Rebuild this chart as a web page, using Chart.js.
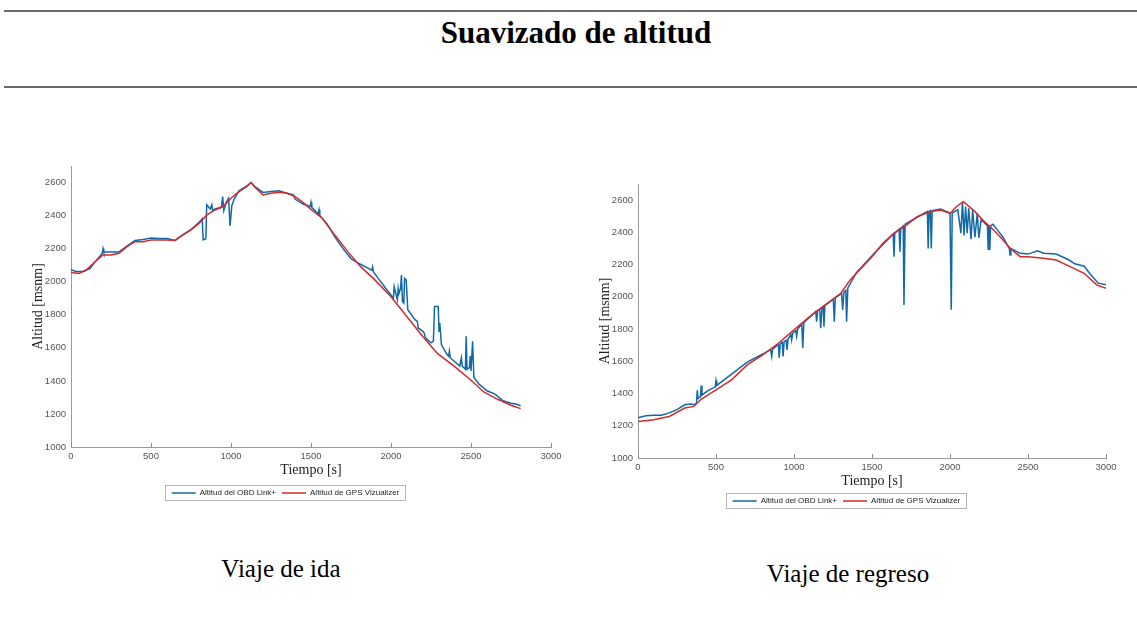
<!DOCTYPE html>
<html>
<head>
<meta charset="utf-8">
<script src="https://cdn.jsdelivr.net/npm/chart.js@4.4.0/dist/chart.umd.min.js"></script>
<style>
  body { margin: 0; background: #fff; width: 1137px; height: 619px; position: relative; overflow: hidden;
         font-family: "Liberation Serif", "Times New Roman", serif; }
  .rule { position: absolute; left: 4px; width: 1133px; height: 2px; background: #6b6b6b; }
  #title { position: absolute; left: 0; width: 1152px; top: 17px; text-align: center;
           font-weight: bold; font-size: 31px; line-height: 31px; color: #000; }
  canvas { position: absolute; }
  .caption { position: absolute; width: 300px; text-align: center; font-size: 25px; line-height: 25px; color: #000; }
</style>
</head>
<body>
<div class="rule" style="top:10px"></div>
<div id="title">Suavizado de altitud</div>
<div class="rule" style="top:86px"></div>

<canvas id="ida" width="580" height="360" style="left:20px;top:150px"></canvas>
<canvas id="regreso" width="568" height="350" style="left:587px;top:168px"></canvas>

<div class="caption" style="left:131px;top:556px">Viaje de ida</div>
<div class="caption" style="left:698px;top:561px">Viaje de regreso</div>

<script>
// ---- data: Viaje de ida ----
var idaTiempoObd = [0, 30, 80, 120, 150, 195, 200, 205, 300, 350, 400, 450, 500, 550, 600, 650, 700, 750, 800, 820,
  826, 843, 848, 870, 880, 885, 900, 940, 948, 955, 970, 985, 994, 1005, 1020, 1050, 1100, 1125, 1150,
  1200, 1250, 1300, 1350, 1390, 1400, 1450, 1495, 1500, 1505, 1545, 1550, 1555, 1600, 1650, 1700, 1750, 1800, 1880, 1885,
  1890, 1920, 1975, 2000, 2015, 2020, 2030, 2040, 2045, 2050, 2060, 2065, 2072, 2080, 2085, 2095, 2105, 2150, 2165, 2170,
  2200, 2207, 2215, 2250, 2265, 2272, 2295, 2300, 2305, 2315, 2350, 2360, 2365, 2370, 2430, 2440, 2445, 2465, 2470, 2475,
  2490, 2495, 2500, 2510, 2518, 2550, 2600, 2650, 2700, 2750, 2780, 2810];
var idaAltitudObd = [2072, 2062, 2062, 2080, 2120, 2170, 2200, 2180, 2180, 2215, 2250, 2255, 2265, 2262, 2262, 2250, 2285, 2315, 2360, 2380,
  2253, 2260, 2465, 2440, 2465, 2430, 2440, 2450, 2515, 2430, 2480, 2505, 2338, 2460, 2500, 2550, 2580, 2600, 2575,
  2540, 2545, 2550, 2535, 2525, 2500, 2470, 2455, 2480, 2450, 2410, 2435, 2400, 2350, 2270, 2200, 2140, 2110, 2070, 2090,
  2060, 2020, 1950, 1920, 1900, 1970, 1930, 1890, 1960, 1930, 1960, 2040, 1880, 1870, 2020, 2010, 1830, 1770, 1760, 1720,
  1700, 1690, 1660, 1630, 1640, 1850, 1850, 1700, 1750, 1620, 1560, 1550, 1580, 1540, 1490, 1540, 1490, 1470, 1670, 1470,
  1480, 1550, 1460, 1640, 1420, 1380, 1340, 1320, 1280, 1265, 1260, 1250];
var idaTiempoGps = [0, 50, 100, 150, 200, 250, 300, 350, 400, 450, 500, 550, 600, 650, 700, 750, 800, 850, 900, 950,
  1000, 1050, 1100, 1125, 1150, 1200, 1250, 1300, 1350, 1400, 1450, 1500, 1570, 1640, 1730, 1810, 1890, 2000, 2100, 2200,
  2290, 2400, 2500, 2580, 2670, 2750, 2810];
var idaAltitudGps = [2055, 2050, 2075, 2121, 2162, 2162, 2172, 2212, 2242, 2242, 2252, 2252, 2252, 2250, 2283, 2313, 2353, 2404, 2434, 2455,
  2505, 2545, 2576, 2600, 2572, 2525, 2535, 2541, 2535, 2515, 2480, 2438, 2384, 2293, 2182, 2091, 2020, 1909, 1788, 1667,
  1566, 1485, 1404, 1333, 1287, 1253, 1232];

// ---- data: Viaje de regreso ----
var regTiempoObd = [0, 50, 100, 150, 200, 250, 300, 340, 360, 375, 380, 385, 400, 405, 410, 450, 495, 500, 505, 600,
  700, 800, 850, 857, 863, 900, 905, 912, 925, 930, 937, 950, 955, 962, 980, 985, 992, 1012, 1017, 1024,
  1050, 1056, 1063, 1140, 1145, 1152, 1165, 1171, 1180, 1188, 1192, 1198, 1252, 1258, 1265, 1305, 1312, 1320, 1332, 1337,
  1345, 1400, 1500, 1600, 1636, 1641, 1646, 1674, 1679, 1684, 1700, 1705, 1712, 1800, 1855, 1860, 1866, 1874, 1880, 1886,
  1940, 2000, 2008, 2014, 2050, 2070, 2080, 2090, 2100, 2110, 2120, 2135, 2145, 2160, 2175, 2185, 2200, 2240, 2245, 2250,
  2255, 2260, 2275, 2300, 2340, 2380, 2385, 2390, 2450, 2500, 2560, 2600, 2680, 2760, 2800, 2860, 2900, 2950, 3000];
var regAltitudObd = [1250, 1262, 1265, 1265, 1280, 1300, 1330, 1335, 1330, 1340, 1420, 1370, 1380, 1450, 1390, 1420, 1440, 1480, 1450, 1520,
  1595, 1645, 1672, 1630, 1675, 1705, 1622, 1708, 1718, 1630, 1722, 1730, 1671, 1740, 1765, 1733, 1775, 1790, 1754, 1800,
  1830, 1683, 1840, 1910, 1846, 1915, 1925, 1805, 1935, 1940, 1815, 1945, 1985, 1846, 1995, 2020, 1919, 2030, 2040, 1846,
  2055, 2150, 2255, 2355, 2390, 2249, 2395, 2420, 2280, 2425, 2440, 1950, 2450, 2500, 2530, 2300, 2530, 2535, 2300, 2535,
  2545, 2520, 1920, 2520, 2540, 2395, 2590, 2380, 2560, 2395, 2550, 2358, 2540, 2370, 2520, 2365, 2480, 2440, 2290, 2440,
  2290, 2440, 2450, 2420, 2370, 2300, 2260, 2300, 2270, 2265, 2285, 2270, 2265, 2230, 2205, 2190, 2140, 2085, 2075];
var regTiempoGps = [0, 100, 200, 300, 358, 400, 500, 600, 700, 800, 900, 1000, 1100, 1200, 1300, 1360, 1420, 1500, 1570, 1640,
  1720, 1790, 1870, 1940, 2000, 2040, 2085, 2150, 2210, 2280, 2340, 2385, 2450, 2500, 2600, 2680, 2770, 2860, 2940, 3000];
var regAltitudGps = [1227, 1237, 1258, 1310, 1320, 1361, 1423, 1485, 1578, 1640, 1712, 1795, 1877, 1950, 2022, 2105, 2166, 2249, 2332, 2394,
  2445, 2497, 2528, 2538, 2517, 2559, 2590, 2538, 2476, 2414, 2352, 2301, 2249, 2249, 2239, 2228, 2187, 2146, 2074, 2053];

var etiquetaObd = 'Altitud del OBD Link+';
var etiquetaGps = 'Altitud de GPS Vizualizer';

function toPoints(xs, ys) {
  return xs.map(function(x, i) { return { x: x, y: ys[i] }; });
}

// frame around legend + small inward tick marks on the x axis (like matlab)
var extras = {
  id: 'extras',
  afterDraw: function(chart) {
    var ctx = chart.ctx;
    var xs = chart.scales.x;
    ctx.save();
    ctx.strokeStyle = '#8a8a8a';
    ctx.lineWidth = 1;
    xs.ticks.forEach(function(t) {
      var px = Math.round(xs.getPixelForValue(t.value)) + 0.5;
      ctx.beginPath();
      ctx.moveTo(px, xs.top);
      ctx.lineTo(px, xs.top - 4);
      ctx.stroke();
    });
    var boxes = chart.legend && chart.legend.legendHitBoxes;
    if (boxes && boxes.length) {
      var l = Math.min.apply(null, boxes.map(function(b) { return b.left; }));
      var r = Math.max.apply(null, boxes.map(function(b) { return b.left + b.width; }));
      var t = Math.min.apply(null, boxes.map(function(b) { return b.top; }));
      var bt = Math.max.apply(null, boxes.map(function(b) { return b.top + b.height; }));
      ctx.strokeStyle = '#b5b5b5';
      ctx.strokeRect(Math.round(l) - 6.5, Math.round(t) - 3.5, Math.round(r - l) + 13, Math.round(bt - t) + 7);
    }
    ctx.restore();
  }
};

function plainNumber(v) { return String(v); }

function makeChart(id, tObd, obd, tGps, gps, xAxisHeight, xTitlePad) {
  var ctx = document.getElementById(id).getContext('2d');
  return new Chart(ctx, {
    type: 'line',
    data: {
      datasets: [{
        label: etiquetaObd,
        data: toPoints(tObd, obd),
        borderColor: '#1269a8',
        borderWidth: 1.5,
        pointRadius: 0,
        tension: 0,
        order: 1
      }, {
        label: etiquetaGps,
        data: toPoints(tGps, gps),
        borderColor: '#d42a2c',
        borderWidth: 1.5,
        pointRadius: 0,
        tension: 0,
        order: 0
      }]
    },
    options: {
      responsive: false,
      animation: false,
      layout: { padding: { top: 16, right: 49, left: 0, bottom: 3 } },
      plugins: {
        legend: {
          position: 'bottom',
          labels: {
            usePointStyle: true,
            pointStyle: 'line',
            pointStyleWidth: 24,
            padding: 6,
            color: '#222',
            font: { family: 'Liberation Sans, Arial, sans-serif', size: 8 },
            sort: function(a, b) { return a.datasetIndex - b.datasetIndex; }
          }
        },
        tooltip: { enabled: false }
      },
      scales: {
        x: {
          type: 'linear',
          min: 0,
          max: 3000,
          grid: { display: false, drawTicks: false },
          border: { color: '#9a9a9a' },
          ticks: { stepSize: 500, padding: 4, color: '#555', callback: plainNumber,
                   font: { family: 'Liberation Sans, Arial, sans-serif', size: 9.5 } },
          title: { display: true, text: 'Tiempo [s]', color: '#222', padding: { top: 0, bottom: xTitlePad },
                   font: { family: 'Liberation Serif, Times New Roman, serif', size: 14 } },
          afterFit: function(s) { s.height = xAxisHeight; }
        },
        y: {
          min: 1000,
          max: 2700,
          grid: { display: false, drawTicks: false },
          border: { color: '#9a9a9a' },
          ticks: { stepSize: 200, padding: 5, color: '#555', callback: plainNumber,
                   font: { family: 'Liberation Sans, Arial, sans-serif', size: 9.5 } },
          afterBuildTicks: function(s) { s.ticks = s.ticks.filter(function(t) { return t.value <= 2600; }); },
          title: { display: true, text: 'Altitud [msnm]', color: '#222', padding: { top: 10, bottom: 0 },
                   font: { family: 'Liberation Serif, Times New Roman, serif', size: 14 } },
          afterFit: function(s) { s.width = 51; }
        }
      }
    },
    plugins: [extras]
  });
}

document.addEventListener('DOMContentLoaded', function() {
  makeChart('ida', idaTiempoObd, idaAltitudObd, idaTiempoGps, idaAltitudGps, 36, 4);
  makeChart('regreso', regTiempoObd, regAltitudObd, regTiempoGps, regAltitudGps, 33, 1);
});
</script>
</body>
</html>
